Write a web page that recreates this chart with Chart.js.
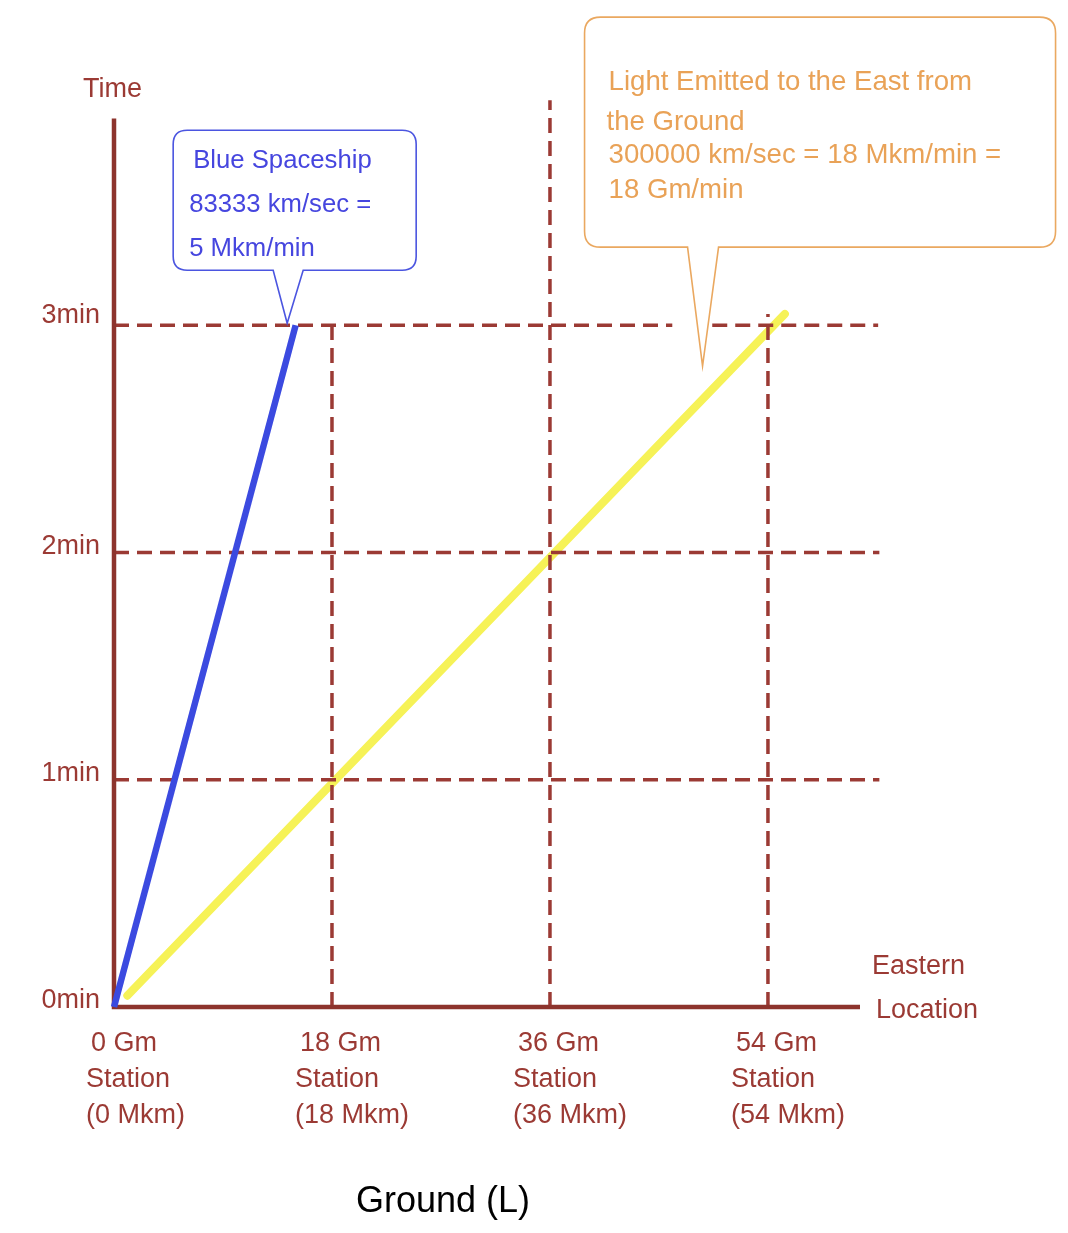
<!DOCTYPE html>
<html>
<head>
<meta charset="utf-8">
<script src="https://cdn.jsdelivr.net/npm/chart.js@4.4.1/dist/chart.umd.min.js"></script>
<style>
  html, body { margin: 0; padding: 0; background: #fff; }
  #wrap { width: 1068px; height: 1233px; position: relative; }
</style>
</head>
<body>
<div id="wrap"><canvas id="stChart"></canvas></div>
<script>
// values (x in Gm, y in minutes)
const stationTicks = [0, 18, 36, 54];
const stationLabels = [
  ['0 Gm', 'Station', '(0 Mkm)'],
  ['18 Gm', 'Station', '(18 Mkm)'],
  ['36 Gm', 'Station', '(36 Mkm)'],
  ['54 Gm', 'Station', '(54 Mkm)']
];
const timeTicks = [0, 1, 2, 3];
const timeLabels = ['0min', '1min', '2min', '3min'];

const blueX = [0, 15];
const blueY = [0, 3];
const lightX = [1.1, 55.4];
const lightY = [0.05, 3.05];

const axisX = [0, 0, 61.6];
const axisY = [3.91, 0, 0];

const vLineX = [18, 36, 54];
const vLineTop = [3.03, 3.99, 3.05];
const hLineY = [1, 2];
const hLineEnd = 63.2;
// the 3min line is broken where the light callout points down
const h3Parts = [[0, 46.1], [49.4, 63.1]];

const blueNote = ['Blue Spaceship', '83333 km/sec =', '5 Mkm/min'];
const lightNote = ['Light Emitted to the East from', 'the Ground', '300000 km/sec = 18 Mkm/min =', '18 Gm/min'];

const RED = '#9b3a34';
const FONT = '"Liberation Sans", Arial, sans-serif';

function pts(xs, ys) {
  return xs.map((x, i) => ({ x: x, y: ys[i] }));
}

const dashStyle = {
  borderColor: RED,
  borderWidth: 3.5,
  borderDash: [15, 8],
  pointRadius: 0,
  showLine: true,
  clip: false,
  order: 2
};

const datasets = [];
datasets.push({
  label: 'Light', data: pts(lightX, lightY),
  borderColor: '#f6f257', borderWidth: 8, borderCapStyle: 'round',
  pointRadius: 0, showLine: true, clip: false, order: 3
});
vLineX.forEach((x, i) => {
  datasets.push(Object.assign({ label: 'v' + x, data: pts([x, x], [0, vLineTop[i]]) }, dashStyle));
});
hLineY.forEach(y => {
  datasets.push(Object.assign({ label: 'h' + y, data: pts([0, hLineEnd], [y, y]) }, dashStyle));
});
h3Parts.forEach((p, i) => {
  datasets.push(Object.assign({ label: 'h3_' + i, data: pts(p, [3, 3]) }, dashStyle));
});
datasets.push({
  label: 'axes', data: pts(axisX, axisY),
  borderColor: '#8d342d', borderWidth: 4.5, borderJoinStyle: 'miter',
  pointRadius: 0, showLine: true, clip: false, order: 1
});
datasets.push({
  label: 'Blue Spaceship', data: pts(blueX, blueY),
  borderColor: '#3b4ae0', borderWidth: 6.5,
  pointRadius: 0, showLine: true, clip: false, order: 0
});

function callout(ctx, box, tip, base, r, stroke) {
  const { l, t, rt, b } = box;
  ctx.beginPath();
  ctx.moveTo(l + r, t);
  ctx.lineTo(rt - r, t);
  ctx.quadraticCurveTo(rt, t, rt, t + r);
  ctx.lineTo(rt, b - r);
  ctx.quadraticCurveTo(rt, b, rt - r, b);
  ctx.lineTo(base[1], b);
  ctx.lineTo(tip.x, tip.y);
  ctx.lineTo(base[0], b);
  ctx.lineTo(l + r, b);
  ctx.quadraticCurveTo(l, b, l, b - r);
  ctx.lineTo(l, t + r);
  ctx.quadraticCurveTo(l, t, l + r, t);
  ctx.closePath();
  ctx.fillStyle = '#fff';
  ctx.fill();
  ctx.strokeStyle = stroke;
  ctx.lineWidth = 1.6;
  ctx.stroke();
}

const textPlugin = {
  id: 'texts',
  afterDraw(chart) {
    const ctx = chart.ctx;
    const xs = chart.scales.x, ys = chart.scales.y;
    const x0 = xs.getPixelForValue(0), y0 = ys.getPixelForValue(0);
    ctx.save();
    ctx.textBaseline = 'middle';

    // time labels
    ctx.fillStyle = RED;
    ctx.font = '27px ' + FONT;
    ctx.textAlign = 'right';
    timeTicks.forEach((v, i) => {
      ctx.fillText(timeLabels[i], x0 - 14, ys.getPixelForValue(v) - (i === 3 ? 10 : 6));
    });
    ctx.textAlign = 'left';
    ctx.fillText('Time', x0 - 31, ys.getPixelForValue(axisY[0]) - 29);

    // station labels
    stationTicks.forEach((v, i) => {
      const px = xs.getPixelForValue(v) + (i === 0 ? -28 : -37);
      stationLabels[i].forEach((line, j) => {
        ctx.fillText(line, px + (j === 0 ? 5 : 0), y0 + 37 + j * 36);
      });
    });
    const xEnd = xs.getPixelForValue(axisX[2]);
    ctx.fillText('Eastern', xEnd + 12, y0 - 40);
    ctx.fillText('Location', xEnd + 16, y0 + 4);

    // bottom title
    ctx.fillStyle = '#000';
    ctx.font = '36px ' + FONT;
    ctx.textAlign = 'center';
    ctx.fillText('Ground (L)', 443, 1202);

    // blue callout
    const bt = { x: xs.getPixelForValue(14.3), y: ys.getPixelForValue(3) - 2 };
    callout(ctx, { l: bt.x - 114, t: bt.y - 193, rt: bt.x + 129, b: bt.y - 53 },
      bt, [bt.x - 14, bt.x + 16], 14, '#4b55e0');
    ctx.fillStyle = '#4646df';
    ctx.font = '25.7px ' + FONT;
    ctx.textAlign = 'left';
    ctx.fillText(blueNote[0], bt.x - 94, bt.y - 162);
    ctx.fillText(blueNote[1], bt.x - 98, bt.y - 118);
    ctx.fillText(blueNote[2], bt.x - 98, bt.y - 74);

    // light callout
    const lt = { x: xs.getPixelForValue(48.6), y: ys.getPixelForValue(2.82) };
    callout(ctx, { l: lt.x - 118, t: lt.y - 349, rt: lt.x + 353, b: lt.y - 119 },
      lt, [lt.x - 15, lt.x + 16], 16, '#eaa860');
    ctx.fillStyle = '#e9a257';
    ctx.font = '27.6px ' + FONT;
    ctx.fillText(lightNote[0], lt.x - 94, lt.y - 284);
    ctx.fillText(lightNote[1], lt.x - 96, lt.y - 244);
    ctx.fillText(lightNote[2], lt.x - 94, lt.y - 211);
    ctx.fillText(lightNote[3], lt.x - 94, lt.y - 176);
    ctx.restore();
  }
};

const ctx = document.getElementById('stChart').getContext('2d');
const stChart = new Chart(ctx, {
  type: 'scatter',
  data: { datasets: datasets },
  options: {
    responsive: true,
    maintainAspectRatio: false,
    animation: false,
    events: [],
    layout: { padding: { left: 114, right: 185, top: 98, bottom: 226 } },
    plugins: { legend: { display: false }, tooltip: { enabled: false } },
    scales: {
      x: { type: 'linear', min: 0, max: 63.5, display: false },
      y: { type: 'linear', min: 0, max: 4, display: false }
    }
  },
  plugins: [textPlugin]
});
</script>
</body>
</html>
